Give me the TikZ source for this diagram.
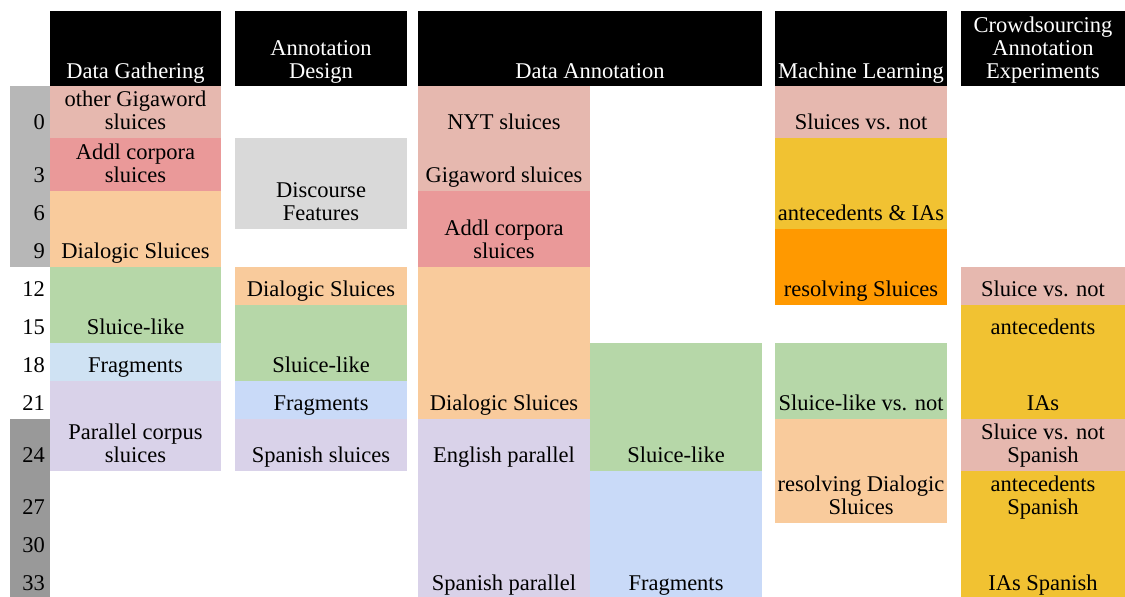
\documentclass[tikz,border=0pt]{standalone}
\usepackage{fontspec}
\setmainfont{Liberation Serif}
\usepackage{xcolor}
\usepackage{tikz}
\usetikzlibrary{positioning}
\definecolor{gpink}{HTML}{E6B8AF}
\definecolor{gred}{HTML}{EA9999}
\definecolor{gpeach}{HTML}{F9CB9C}
\definecolor{ggreen}{HTML}{B6D7A8}
\definecolor{gblue}{HTML}{CFE2F3}
\definecolor{gcorn}{HTML}{C9DAF8}
\definecolor{gpurple}{HTML}{D9D2E9}
\definecolor{ggray}{HTML}{D9D9D9}
\definecolor{gyellow}{HTML}{F1C232}
\definecolor{gorange}{HTML}{FF9900}
\definecolor{sidelight}{HTML}{B7B7B7}
\definecolor{sidedark}{HTML}{999999}
\tikzstyle{head} = [text=white, anchor=base, align=center, inner sep=0pt, yshift=-1.5pt]
\tikzstyle{lab} = [anchor=base, align=center, inner sep=0pt, yshift=-1.5pt]
\tikzstyle{num} = [anchor=base east, inner sep=0pt, yshift=-1.5pt]

\begin{document}
\begin{tikzpicture}[x=1pt, y=-1pt, every node/.style={font=\fontsize{22.5}{23}\selectfont}]
    \useasboundingbox (0,0) rectangle (1125,597);

    % Barra lateral
    \fill[sidelight] (10,86) rectangle (50,267);
    \fill[sidedark] (10,419) rectangle (50,597);
    \foreach \n/\y in {0/128,3/181,6/219,9/257,12/295,15/333,18/371,21/409,24/461,27/513,30/551,33/589}
        \node[num] (n\n) at (45,\y) {\n};

    % Cabecalhos
    \fill[black] (50,11) rectangle (221,86);
    \fill[black] (235,11) rectangle (407,86);
    \fill[black] (418,11) rectangle (762,86);
    \fill[black] (775,11) rectangle (947,86);
    \fill[black] (961,11) rectangle (1125,86);
    \node[head] (hDG) at (135.5,77) {Data Gathering};
    \node[head] (hAD) at (321,77) {Annotation\\Design};
    \node[head] (hDA) at (590,77) {Data Annotation};
    \node[head] (hML) at (861,77) {Machine Learning};
    \node[head] (hCE) at (1043,77) {Crowdsourcing\\Annotation\\Experiments};

    % Data Gathering
    \fill[gpink] (50,86) rectangle (221,138);
    \fill[gred] (50,138) rectangle (221,191);
    \fill[gpeach] (50,191) rectangle (221,267);
    \fill[ggreen] (50,267) rectangle (221,343);
    \fill[gblue] (50,343) rectangle (221,381);
    \fill[gpurple] (50,381) rectangle (221,471);
    \node[lab] (dgOther) at (135.5,128) {other Gigaword\\sluices};
    \node[lab] (dgAddl) at (135.5,181) {Addl corpora\\sluices};
    \node[lab] (dgDial) at (135.5,257) {Dialogic Sluices};
    \node[lab] (dgLike) at (135.5,333) {Sluice-like};
    \node[lab] (dgFrag) at (135.5,371) {Fragments};
    \node[lab] (dgPar) at (135.5,461) {Parallel corpus\\sluices};

    % Annotation Design
    \fill[ggray] (235,138) rectangle (407,229);
    \fill[gpeach] (235,267) rectangle (407,305);
    \fill[ggreen] (235,305) rectangle (407,381);
    \fill[gcorn] (235,381) rectangle (407,419);
    \fill[gpurple] (235,419) rectangle (407,471);
    \node[lab] (adDisc) at (321,219) {Discourse\\Features};
    \node[lab] (adDial) at (321,295) {Dialogic Sluices};
    \node[lab] (adLike) at (321,371) {Sluice-like};
    \node[lab] (adFrag) at (321,409) {Fragments};
    \node[lab] (adSpan) at (321,461) {Spanish sluices};

    % Data Annotation
    \fill[gpink] (418,86) rectangle (590,191);
    \fill[gred] (418,191) rectangle (590,267);
    \fill[gpeach] (418,267) rectangle (590,419);
    \fill[gpurple] (418,419) rectangle (590,597);
    \fill[ggreen] (590,343) rectangle (762,471);
    \fill[gcorn] (590,471) rectangle (762,597);
    \node[lab] (daNyt) at (504,128) {NYT sluices};
    \node[lab] (daGiga) at (504,181) {Gigaword sluices};
    \node[lab] (daAddl) at (504,257) {Addl corpora\\sluices};
    \node[lab] (daDial) at (504,409) {Dialogic Sluices};
    \node[lab] (daEng) at (504,461) {English parallel};
    \node[lab] (daSpan) at (504,589) {Spanish parallel};
    \node[lab] (daLike) at (676,461) {Sluice-like};
    \node[lab] (daFrag) at (676,589) {Fragments};

    % Machine Learning
    \fill[gpink] (775,86) rectangle (947,138);
    \fill[gyellow] (775,138) rectangle (947,229);
    \fill[gorange] (775,229) rectangle (947,305);
    \fill[ggreen] (775,343) rectangle (947,419);
    \fill[gpeach] (775,419) rectangle (947,523);
    \node[lab] (mlSl) at (861,128) {Sluices vs. not};
    \node[lab] (mlAnt) at (861,219) {antecedents \& IAs};
    \node[lab] (mlRes) at (861,295) {resolving Sluices};
    \node[lab] (mlLike) at (861,409) {Sluice-like vs. not};
    \node[lab] (mlDial) at (861,513) {resolving Dialogic\\Sluices};

    % Crowdsourcing
    \fill[gpink] (961,267) rectangle (1125,305);
    \fill[gyellow] (961,305) rectangle (1125,419);
    \fill[gpink] (961,419) rectangle (1125,471);
    \fill[gyellow] (961,471) rectangle (1125,597);
    \node[lab] (ceSl) at (1043,295) {Sluice vs. not};
    \node[lab] (ceAnt) at (1043,333) {antecedents};
    \node[lab] (ceIA) at (1043,409) {IAs};
    \node[lab] (ceSlEs) at (1043,461) {Sluice vs. not\\Spanish};
    \node[lab] (ceAntEs) at (1043,513) {antecedents\\Spanish};
    \node[lab] (ceIAEs) at (1043,589) {IAs Spanish};
\end{tikzpicture}
\end{document}
